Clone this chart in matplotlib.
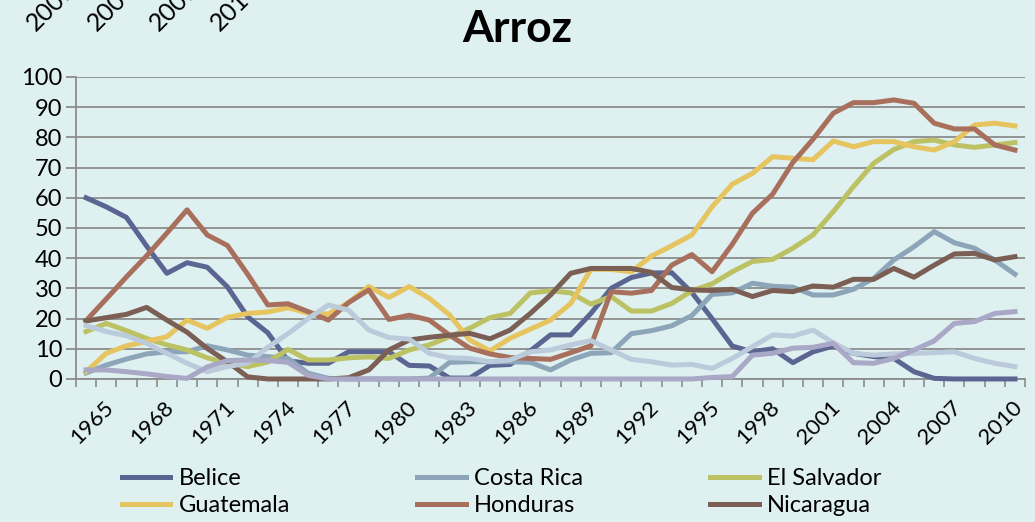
import matplotlib
matplotlib.use("Agg")
import matplotlib.pyplot as plt
from matplotlib.transforms import ScaledTranslation

BG = "#dff0f0"; GRID = "#8c8c8c"; INK = "#000000"
FONT = ["Lato", "DejaVu Sans"]

years = list(range(1965, 2012))

belice = [60, 57, 53.5, 44, 35, 38.5, 37, 30.5, 20.6, 15.3,
          6, 5.2, 5.2, 9, 9, 9, 4.5, 4.3, 0.3, 0.3,
          4.5, 4.8, 9.3, 14.6, 14.6, 21.7, 30, 33.6, 35.1, 35.2,
          28.6, 20, 10.9, 9, 10, 5.4, 9, 10.9, 8.5, 7.4,
          6.8, 2.4, 0.2, 0, 0, 0, 0]
costa_rica = [2, 4.6, 6.6, 8.3, 9, 9, 11, 9.6, 7.9, 7.4,
              6.8, 1.9, 0.2, 0, 0, 0, 0, 0.3, 5.5, 5.7,
              5.7, 5.7, 5.5, 3, 6.3, 8.5, 8.7, 15, 16, 17.6,
              21, 28, 28.5, 31.7, 30.7, 30.4, 27.8, 27.8, 29.7, 33.3,
              39.4, 43.8, 48.8, 45.1, 43.3, 39.4, 34.7]
el_salvador = [15.7, 18.4, 16, 13.4, 11.3, 9.6, 7, 5.2, 4.1, 5.6,
               9.8, 6.3, 6.3, 7, 7.3, 6.8, 9.6, 11.3, 14, 16.8,
               20.3, 21.7, 28.5, 29.2, 28.5, 24.8, 27.3, 22.5, 22.5, 25,
               29.2, 31.5, 35.5, 38.9, 39.6, 43.3, 47.7, 55.4, 63.7, 71.4,
               76, 78.6, 79.1, 77.5, 76.7, 77.5, 78.3]
guatemala = [2.4, 8.5, 11, 12.4, 14, 19.5, 16.8, 20.4, 21.7, 22.2,
             23.6, 21.8, 21.5, 25.3, 30.6, 27, 30.6, 26.7, 21.2, 12.9,
             9.3, 13.5, 16.5, 19.5, 25, 36.3, 36.3, 35.5, 40.7, 44.1,
             47.7, 57, 64.5, 68.1, 73.6, 73.1, 72.6, 78.8, 76.9, 78.6,
             78.6, 76.9, 75.8, 78.6, 84.1, 84.7, 83.8]
honduras = [19.3, 26.5, 33.8, 40.8, 48.3, 56, 47.7, 44.2, 34.7, 24.5,
            24.9, 22.3, 19.5, 25.3, 29.5, 19.7, 21.1, 19.5, 14.5, 10.2,
            8.3, 7.1, 6.8, 6.5, 8.7, 11, 28.9, 28.4, 29.3, 37.7,
            41.2, 35.5, 44.6, 54.9, 61.2, 71.7, 79.4, 88, 91.5, 91.5,
            92.4, 91.3, 84.7, 82.8, 82.8, 77.5, 75.8]
nicaragua = [19.2, 20.3, 21.4, 23.7, 19.5, 15.5, 10.1, 5.7, 0.7, 0,
             0, 0, 0, 0.4, 3, 9.6, 12.9, 13.8, 14.5, 15.1,
             13.3, 16.2, 21.7, 27.8, 35, 36.6, 36.6, 36.6, 35.3, 30.3,
             29.5, 29.3, 29.7, 27.3, 29.3, 28.9, 30.8, 30.4, 33, 33,
             36.6, 33.7, 37.7, 41.4, 41.6, 39.4, 40.5]
# two more series whose legend entries are cut off in the original
serie_7 = [17.7, 15.7, 14.3, 11.8, 8.5, 5.2, 2.4, 4.1, 5.2, 10.5,
           15, 20, 24.5, 22.8, 16.2, 13.7, 13.2, 8.5, 7, 6.8,
           5.7, 6.3, 9, 9.6, 11.3, 12.7, 9.6, 6.5, 5.7, 4.6,
           4.8, 3.5, 6.8, 10.7, 14.6, 14.2, 16.2, 12, 8.5, 7.9,
           8.3, 8.5, 8.7, 9, 6.8, 5.2, 4.1]
serie_8 = [3, 3, 2.4, 1.7, 0.8, 0.2, 4, 6.1, 6.3, 6.1,
           5.5, 1.2, 0, 0, 0, 0, 0, 0, 0, 0,
           0, 0, 0, 0, 0, 0, 0, 0, 0, 0,
           0, 0.5, 0.8, 7.9, 8.5, 10.2, 10.5, 11.8, 5.4, 5.2,
           6.8, 9.6, 12.6, 18.4, 19, 21.7, 22.3]

names = ["Belice", "Costa Rica", "El Salvador", "Guatemala", "Honduras", "Nicaragua", "", ""]
colors = ["#5b6592", "#8ca5b8", "#bcc263", "#e6c45f", "#a8705c", "#7b5f55", "#bccbdb", "#a9a8c6"]
series = [belice, costa_rica, el_salvador, guatemala, honduras, nicaragua, serie_7, serie_8]

plt.rcParams["font.family"] = FONT

fig = plt.figure(figsize=(10.35, 5.22), dpi=100)
fig.patch.set_facecolor(BG)
ax = fig.add_axes([0.0734, 0.274, 0.917, 0.5785])
ax.set_facecolor("none")

handles = []
for vals, col in zip(series, colors):
    h, = ax.plot(years, vals, color=col, lw=3.6, clip_on=False, zorder=3)
    handles.append(h)

ax.set_xlim(1964.5, 2011.5)
ax.set_ylim(0, 100)
ax.set_yticks(range(0, 101, 10))
ax.yaxis.grid(True, color=GRID, lw=1.3)
ax.set_axisbelow(True)
for s in ["top", "right"]:
    ax.spines[s].set_visible(False)
for s in ["left", "bottom"]:
    ax.spines[s].set_color(GRID)
    ax.spines[s].set_linewidth(1.3)

ax.set_xticks(years[::3])
ax.set_xticklabels([str(y) for y in years[::3]], rotation=45, ha="center")
ax.set_xticks([y - 0.5 for y in years] + [years[-1] + 0.5], minor=True)
ax.tick_params(axis="x", which="major", length=0, pad=13, labelsize=16)
ax.tick_params(axis="x", which="minor", length=6, width=1.2, color=GRID)
ax.tick_params(axis="y", length=7, width=1.3, color=GRID, labelsize=17, pad=3)
shift = ScaledTranslation(6 / 100, 0, fig.dpi_scale_trans)
for lab in ax.get_xticklabels():
    lab.set_transform(lab.get_transform() + shift)

fig.text(0.5, 0.945, "Arroz", fontsize=32, fontweight="bold", ha="center", va="center")

# tick labels of the chart above, cut by the top edge
for x, lab in zip([36, 97, 159, 220], ["2001", "2004", "2007", "2010"]):
    fig.text(x / 1035, 1 - 32 / 522, lab, rotation=45, rotation_mode="anchor",
             ha="left", va="baseline", fontsize=18)

order = [0, 3, 1, 4, 2, 5]
fig.legend([handles[i] for i in order], [names[i] for i in order], ncol=3,
           loc="upper left", bbox_to_anchor=(122 / 1035, 1 - 468 / 522), frameon=False,
           fontsize=17, handlelength=2.05, handletextpad=0.34,
           columnspacing=5.4, labelspacing=0.27, borderpad=0, borderaxespad=0)

fig.savefig("out.png", dpi=100, facecolor=BG)
